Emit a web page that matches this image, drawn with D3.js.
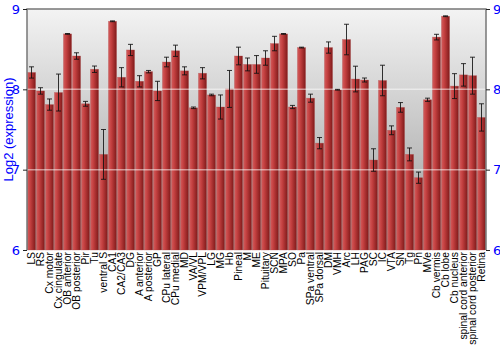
<!DOCTYPE html>
<html>
  <head>
    <meta charset="utf-8">
    <script src="https://cdn.jsdelivr.net/npm/d3@7"></script>
    <style>
      body { margin: 0; background: #fff; }
      text { font-family: "Liberation Sans", Arial, sans-serif; }
    </style>
  </head>
  <body>
    <script>
      // Brain regions along the x axis
      var regions = ["LS", "RS", "Cx motor", "Cx cingulate", "OB anterior", "OB posterior",
        "Pir", "Tu", "ventral S", "CA1", "CA2/CA3", "DG", "A anterior", "A posterior", "GP",
        "CPu lateral", "CPu medial", "MD", "VA/VL", "VPM/VPL", "LG", "MG", "Hb", "Pineal",
        "M", "ME", "Pituitary", "SCN", "MPA", "SO", "Pa", "SPa ventral", "SPa dorsal", "DM",
        "VMH", "Arc", "LH", "PAG", "SC", "IC", "VTA", "SN", "Tg", "Pn", "MVe", "Cb vermis",
        "Cb lobe", "Cb nucleus", "spinal cord anterior", "spinal cord posterior", "Retina"];

      // Mean log2 expression per region
      var means = [8.21, 7.98, 7.81, 7.96, 8.69, 8.415, 7.82, 8.25, 7.19, 8.847,
        8.15, 8.49, 8.10, 8.22, 7.98, 8.34, 8.48, 8.23, 7.77, 8.20, 7.93, 7.78, 8.005,
        8.415, 8.31, 8.31, 8.39, 8.57, 8.69, 7.78, 8.52, 7.89, 7.33, 8.52, 7.995, 8.62,
        8.128, 8.116, 7.12, 8.11, 7.49, 7.775, 7.19, 6.90, 7.87, 8.65, 8.91, 8.04, 8.18,
        8.17, 7.65];

      // Half-length of the error bars
      var errors = [0.07, 0.04, 0.07, 0.23, 0.005, 0.04, 0.03, 0.04, 0.31, 0.005,
        0.12, 0.07, 0.07, 0.015, 0.12, 0.06, 0.07, 0.05, 0.01, 0.07, 0.01, 0.15, 0.23,
        0.11, 0.08, 0.11, 0.09, 0.09, 0.005, 0.02, 0.005, 0.05, 0.07, 0.07, 0.005, 0.19,
        0.16, 0.025, 0.14, 0.19, 0.055, 0.06, 0.08, 0.07, 0.02, 0.035, 0.005, 0.155,
        0.14, 0.23, 0.17];

      var yTicks = [6, 7, 8, 9];

      var width = 500, height = 350;
      var margin = {top: 9, left: 27, right: 14, bottom: 100};
      var plotW = width - margin.left - margin.right;
      var plotH = height - margin.top - margin.bottom;

      var svg = d3.select("body").append("svg")
        .attr("width", width).attr("height", height);

      var defs = svg.append("defs");
      var bg = defs.append("linearGradient").attr("id", "bg")
        .attr("x1", 0).attr("y1", 0).attr("x2", 0).attr("y2", 1);
      bg.append("stop").attr("offset", "0%").attr("stop-color", "#f3f3f3");
      bg.append("stop").attr("offset", "100%").attr("stop-color", "#9a9a9a");

      var barGrad = defs.append("linearGradient").attr("id", "bar")
        .attr("x1", 0).attr("y1", 0).attr("x2", 1).attr("y2", 0);
      barGrad.append("stop").attr("offset", "0%").attr("stop-color", "#d35c5c");
      barGrad.append("stop").attr("offset", "35%").attr("stop-color", "#c44040");
      barGrad.append("stop").attr("offset", "100%").attr("stop-color", "#801a1a");

      var x = d3.scaleBand().domain(regions).range([0, plotW]).paddingInner(0.1).paddingOuter(0.05);
      var y = d3.scaleLinear().domain([6, 9]).range([plotH, 0]);

      var g = svg.append("g")
        .attr("transform", "translate(" + margin.left + "," + margin.top + ")");

      g.append("rect").attr("width", plotW).attr("height", plotH).attr("fill", "url(#bg)");

      // Bars
      g.selectAll(".bar").data(means).enter().append("rect")
        .attr("class", "bar")
        .attr("x", function(d, i){ return x(regions[i]); })
        .attr("y", function(d){ return y(d); })
        .attr("width", x.bandwidth())
        .attr("height", function(d){ return plotH - y(d); })
        .attr("fill", "url(#bar)")
        .attr("stroke", "#b04848").attr("stroke-opacity", 0.5).attr("stroke-width", 0.6);

      // Gridlines drawn faintly over bars
      g.selectAll(".grid").data([7, 8]).enter().append("line")
        .attr("x1", 0).attr("x2", plotW)
        .attr("y1", function(d){ return y(d); }).attr("y2", function(d){ return y(d); })
        .attr("stroke", "#fff").attr("stroke-width", 1.5).attr("stroke-opacity", 0.5);

      // Error bars
      var eb = g.selectAll(".err").data(means).enter().append("g")
        .attr("transform", function(d, i){
          return "translate(" + (x(regions[i]) + x.bandwidth() / 2) + ",0)";
        })
        .attr("stroke", "#111").attr("stroke-opacity", 0.85).attr("stroke-width", 1);
      eb.append("line")
        .attr("y1", function(d, i){ return y(d + errors[i]); })
        .attr("y2", function(d, i){ return y(d - errors[i]); });
      eb.append("line").attr("x1", -2.5).attr("x2", 2.5)
        .attr("y1", function(d, i){ return y(d + errors[i]); })
        .attr("y2", function(d, i){ return y(d + errors[i]); });
      eb.append("line").attr("x1", -2.5).attr("x2", 2.5)
        .attr("y1", function(d, i){ return y(d - errors[i]); })
        .attr("y2", function(d, i){ return y(d - errors[i]); });

      // Frame
      g.append("path")
        .attr("d", "M0," + plotH + "V0H" + plotW + "V" + plotH)
        .attr("fill", "none").attr("stroke", "#777").attr("stroke-width", 1.5);

      // Axes
      var left = g.append("g")
        .call(d3.axisLeft(y).tickValues(yTicks).tickFormat(d3.format("d")).tickSize(4).tickPadding(3));
      var right = g.append("g").attr("transform", "translate(" + plotW + ",0)")
        .call(d3.axisRight(y).tickValues(yTicks).tickFormat(d3.format("d")).tickSize(4).tickPadding(3));
      [left, right].forEach(function(a){
        a.select(".domain").remove();
        a.selectAll("line").attr("stroke", "#222");
        a.selectAll("text").attr("fill", "#0000ff")
          .style("font-size", "13px").style("font-family", "DejaVu Sans, sans-serif");
      });

      var bottom = g.append("g").attr("transform", "translate(0," + plotH + ")")
        .call(d3.axisBottom(x).tickSize(0).tickPadding(2));
      bottom.select(".domain").remove();
      bottom.selectAll("text")
        .attr("transform", "rotate(-90)")
        .attr("x", -2).attr("y", 0).attr("dy", "0.35em")
        .style("text-anchor", "end")
        .style("font-size", "10.3px").attr("fill", "#000");

      // Y axis title
      svg.append("text")
        .attr("transform", "translate(13," + (margin.top + plotH / 2) + ") rotate(-90)")
        .style("text-anchor", "middle").style("font-size", "13px")
        .attr("fill", "#0000ff").text("Log2 (expression)");
    </script>
  </body>
</html>
